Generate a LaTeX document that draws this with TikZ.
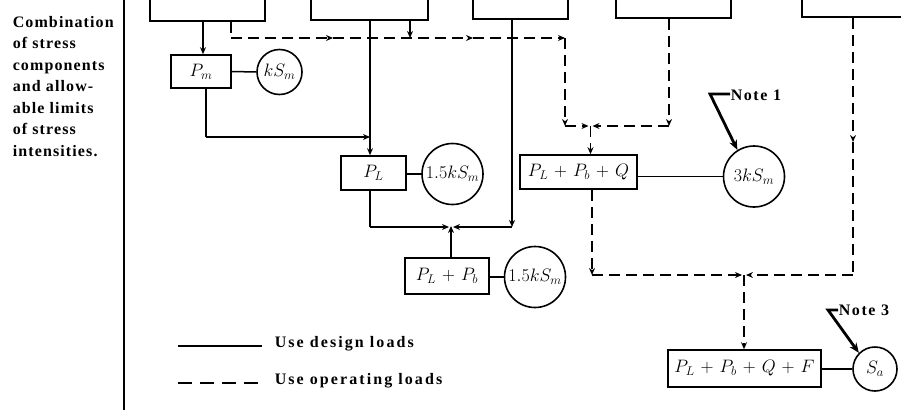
\RequirePackage{fix-cm}
\documentclass[tikz,border=0pt]{standalone}
\usepackage[no-math]{fontspec}
\setmainfont{Liberation Serif}
\newfontfamily\capfont[LetterSpace=7]{Liberation Serif}
\newfontfamily\legfont[LetterSpace=13]{Liberation Serif}
\newfontfamily\notefont[LetterSpace=10]{Liberation Serif}
\usetikzlibrary{arrows.meta}
\newcommand{\mathlbl}{\fontsize{18}{21}\selectfont\medmuskip=6mu}
\begin{document}
\begin{tikzpicture}[x=1pt,y=-1pt,
  line width=1.5pt,
  tip/.tip={Stealth[length=7pt,width=6pt]},
  box/.style={draw, rectangle, inner sep=0pt, line width=1.6pt, font=\mathlbl},
  topbox/.style={draw, rectangle, inner sep=0pt, line width=1.6pt},
  circ/.style={draw, circle, inner sep=0pt, line width=1.6pt, font=\mathlbl},
  dsh/.style={dash pattern=on 11pt off 6pt},
  legdsh/.style={dash pattern=on 14pt off 8pt},
  arr/.style={-{tip}},
  note/.style={line width=2.8pt},
  notetext/.style={font=\notefont\bfseries\fontsize{16}{18}\selectfont, inner sep=0pt, anchor=base west},
  legtext/.style={font=\legfont\bfseries\fontsize{16}{18}\selectfont, inner sep=0pt, anchor=base west},
]
\useasboundingbox (0,0) rectangle (901,410);
\clip (0,0) rectangle (901,410);

% side caption
\node[anchor=north west, inner sep=0pt, align=left,
  font=\capfont\bfseries\fontsize{16}{21.5}\selectfont] (cap) at (12,15.5)
  {Combination\\of stress\\components\\and allow-\\able limits\\of stress\\intensities.};
\coordinate (vt) at (124,0);
\coordinate (vb) at (124,410);
\draw[line width=1.3pt] (vt) -- (vb);

% top boxes (cut by the top edge)
\node[topbox, minimum width=115pt, minimum height=40pt, anchor=south west] (b1) at (149,22) {};
\node[topbox, minimum width=117pt, minimum height=40pt, anchor=south west] (b2) at (310,21) {};
\node[topbox, minimum width=95pt,  minimum height=40pt, anchor=south west] (b3) at (472,20) {};
\node[topbox, minimum width=115pt, minimum height=40pt, anchor=south west] (b4) at (615,19) {};
\node[topbox, minimum width=130pt, minimum height=40pt, anchor=south west] (b5) at (801,18) {};

% stress boxes and limit circles
\node[box, minimum width=60pt, minimum height=33pt] (pm) at (201,71.5) {$P_m$};
\node[circ, minimum size=45pt] (cpm) at (279.5,72) {$kS_m$};
\node[box, minimum width=65pt, minimum height=34pt] (pl) at (373.5,173) {$P_L$};
\node[circ, minimum size=61pt] (cpl) at (452.5,174) {$1.5kS_m$};
\node[box, minimum width=84pt, minimum height=36pt] (plb) at (447,276) {$P_L + P_b$};
\node[circ, minimum size=61pt] (cplb) at (535,277) {$1.5kS_m$};
\node[box, minimum width=117pt, minimum height=34pt] (plbq) at (578.5,172) {$P_L + P_b + Q$};
\node[circ, minimum size=61pt] (cplbq) at (754,176.5) {$3kS_m$};
\node[box, minimum width=153pt, minimum height=37pt] (plbqf) at (744.5,368.5) {$P_L + P_b + Q + F$};
\node[circ, minimum size=44pt] (cplbqf) at (875,369) {$S_a$};

\draw (pm.east) -- (cpm.west);
\draw (pl.east |- cpl.west) -- (cpl.west);
\draw (plb.east |- cplb.west) -- (cplb.west);
\draw (plbq.east |- cplbq.west) -- (cplbq.west);
\draw (plbqf.east |- cplbqf.west) -- (cplbqf.west);

% junction coordinates
\coordinate (x1) at (203,0);
\coordinate (x1b) at (206,0);
\coordinate (x2) at (370,0);
\coordinate (x2s) at (410,0);
\coordinate (x3) at (512,0);
\coordinate (j1) at (206,137);
\coordinate (j2) at (370,137);
\coordinate (d0) at (231,38);
\coordinate (dm1) at (333,38);
\coordinate (dm2) at (473,38);
\coordinate (d1) at (565,38);
\coordinate (d2) at (565,126);
\coordinate (jq) at (590.5,126);
\coordinate (d4) at (669,126);
\coordinate (s0) at (370,227);
\coordinate (s1) at (512,227);
\coordinate (js) at (451,227);
\coordinate (e1) at (592,275);
\coordinate (je) at (744,275);
\coordinate (e2) at (853,275);
\coordinate (e5m) at (853,142);

% design-load (solid) paths
\draw[arr] (b1.south -| x1) -- (pm.north -| x1);
\draw (pm.south -| x1b) -- (j1);
\draw[arr] (j1) -- (j2);
\draw[arr] (b2.south -| x2) -- (pl.north -| x2);
\draw[arr] (b2.south -| x2s) -- (d0 -| x2s);
\draw (pl.south -| x2) -- (s0);
\draw[arr] (s0) -- ([xshift=-2pt]js);
\draw[arr] (b3.south -| x3) -- (s1);
\draw[arr] (s1) -- ([xshift=2pt]js);
\draw[arr] (plb.north -| js) -- ([yshift=1pt]js);

% operating-load (dashed) paths
\draw[dsh] (b1.south -| d0) -- (d0);
\draw[dsh,arr] (d0) -- (dm1);
\draw[dsh,arr] (dm1) -- (dm2);
\draw[dsh,arr] (dm2) -- (d1);
\draw[dsh,arr] (d1) -- (d2);
\draw[dsh,arr] (d2) -- ([xshift=-2pt]jq);
\draw[dsh,arr] (b4.south -| d4) -- (d4);
\draw[dsh,arr] (d4) -- ([xshift=2pt]jq);
\draw[dsh,arr] (jq) -- (plbq.north -| jq);
\draw[dsh,arr] (plbq.south -| e1) -- (e1);
\draw[dsh,arr] (e1) -- ([xshift=-2pt]je);
\draw[dsh,arr] (b5.south -| e2) -- (e5m);
\draw[dsh] (e5m) -- (e2);
\draw[dsh,arr] (e2) -- ([xshift=2pt]je);
\draw[dsh,arr] (je) -- (plbqf.north -| je);

% notes
\node[notetext] (n1) at (730,100) {Note 1};
\coordinate (n1k) at (710,94);
\draw[note,-{Stealth[length=10pt,width=8pt]}] (n1.west |- n1k) -- (n1k) -- (cplbq.122);
\node[notetext] (n3) at (838,315) {Note 3};
\coordinate (n3k) at (828,310);
\draw[note,-{Stealth[length=10pt,width=8pt]}] (n3.west |- n3k) -- (n3k) -- (cplbqf.135);

% legend
\coordinate (l1a) at (178,346);
\coordinate (l1b) at (262,346);
\coordinate (l2a) at (178,383);
\coordinate (l2b) at (262,383);
\draw (l1a) -- (l1b);
\draw[legdsh] (l2a) -- (l2b);
\node[legtext] (t1) at (274,347) {Use design loads};
\node[legtext] (t2) at (274,384) {Use operating loads};
\end{tikzpicture}
\end{document}
